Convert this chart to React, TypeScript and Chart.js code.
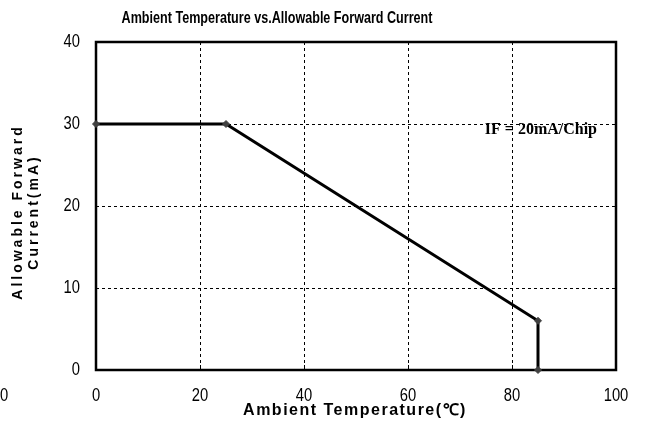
import { useEffect, useRef } from "react";
import { Chart, registerables } from "chart.js";

Chart.register(...registerables);

// Derating curve: ambient temperature (°C) vs allowable forward current (mA)
const temperatures = [0, 25, 85, 85];
const currents = [30, 30, 6, 0];
const xTickValues = [0, 20, 40, 60, 80, 100];
const yTickValues = [0, 10, 20, 30, 40];
const chartTitle = "Ambient Temperature vs.Allowable Forward Current";
const xTitle = "Ambient Temperature(℃)";
const yTitleLines = ["Allowable Forward", "Current(mA)"];
const noteText = "IF = 20mA/Chip";
const strayLabel = "0";

const SANS = "'Liberation Sans', Arial, sans-serif";

// draws text squeezed horizontally to mimic a condensed face
function condensedText(
  ctx: CanvasRenderingContext2D,
  text: string,
  x: number,
  y: number,
  squeeze: number,
  align: CanvasTextAlign
) {
  ctx.save();
  ctx.translate(x, y);
  ctx.scale(squeeze, 1);
  ctx.textAlign = align;
  ctx.fillText(text, 0, 0);
  ctx.restore();
}

const decorPlugin = {
  id: "decor",
  beforeDatasetsDraw(chart: any) {
    const { ctx, chartArea } = chart;
    const { left, right, top, bottom } = chartArea;
    const xs = chart.scales.x;
    ctx.save();

    // inner tick marks along the bottom edge
    ctx.strokeStyle = "#000";
    ctx.lineWidth = 1;
    ctx.setLineDash([]);
    for (const v of xTickValues) {
      const px = Math.round(xs.getPixelForValue(v)) + 0.5;
      ctx.beginPath();
      ctx.moveTo(px, bottom);
      ctx.lineTo(px, bottom - 5);
      ctx.stroke();
    }

    // plot frame (under the curve so markers on the edges stay visible)
    ctx.lineWidth = 2.5;
    ctx.strokeRect(left, top, right - left, bottom - top);
    ctx.restore();
  },
  afterDraw(chart: any) {
    const { ctx } = chart;
    const xs = chart.scales.x;
    const ys = chart.scales.y;
    ctx.save();
    ctx.fillStyle = "#000";
    ctx.textBaseline = "middle";

    // tick labels
    ctx.font = `18px ${SANS}`;
    for (const v of xTickValues) {
      condensedText(ctx, String(v), xs.getPixelForValue(v), 396, 0.82, "center");
    }
    for (const v of yTickValues) {
      condensedText(ctx, String(v), 80, ys.getPixelForValue(v), 0.82, "right");
    }

    // chart title
    ctx.font = `bold 17px ${SANS}`;
    condensedText(ctx, chartTitle, 277, 18, 0.74, "center");

    // x axis title
    ctx.font = `bold 16px ${SANS}`;
    (ctx as any).letterSpacing = "1.5px";
    ctx.textAlign = "center";
    ctx.fillText(xTitle, 355, 411);

    // y axis title, two rotated lines
    ctx.save();
    ctx.translate(18, 212);
    ctx.rotate(-Math.PI / 2);
    ctx.font = `bold 14px ${SANS}`;
    (ctx as any).letterSpacing = "3px";
    ctx.textAlign = "center";
    ctx.fillText(yTitleLines[0], 0, 0);
    ctx.fillText(yTitleLines[1], 0, 16);
    ctx.restore();
    (ctx as any).letterSpacing = "0px";

    // condition note
    ctx.font = `bold 16px 'Liberation Serif', 'Times New Roman', serif`;
    ctx.textAlign = "right";
    ctx.fillText(noteText, 597, 130);

    // clipped label at the far left edge
    ctx.font = `18px ${SANS}`;
    condensedText(ctx, strayLabel, 0, 396, 0.82, "left");

    ctx.restore();
  },
};

export default function App() {
  const canvasRef = useRef<HTMLCanvasElement | null>(null);

  useEffect(() => {
    document.body.style.margin = "0";
    const canvas = canvasRef.current;
    if (!canvas) return;
    const chart = new Chart(canvas, {
      type: "line",
      data: {
        datasets: [
          {
            data: temperatures.map((t, i) => ({ x: t, y: currents[i] })),
            borderColor: "#000",
            borderWidth: 3,
            backgroundColor: "#404040",
            pointBorderColor: "#404040",
            pointStyle: "rectRot",
            pointRadius: 3.5,
            pointBorderWidth: 1,
            tension: 0,
            fill: false,
            clip: 6,
          },
        ],
      },
      options: {
        animation: false,
        responsive: false,
        maintainAspectRatio: false,
        layout: { padding: { top: 42, right: 29, left: 0, bottom: 0 } },
        plugins: {
          legend: { display: false },
          title: { display: false },
          tooltip: { enabled: false },
        },
        scales: {
          x: {
            type: "linear",
            min: 0,
            max: 100,
            afterBuildTicks: (s: any) => {
              s.ticks = xTickValues.map((v) => ({ value: v }));
            },
            afterFit: (s: any) => {
              s.height = 56;
            },
            ticks: { display: false },
            grid: {
              color: (c: any) =>
                c.tick && (c.tick.value === 0 || c.tick.value === 100) ? "rgba(0,0,0,0)" : "#000",
              lineWidth: 1,
              drawTicks: false,
            },
            border: { display: false, dash: [3, 3] },
          },
          y: {
            type: "linear",
            min: 0,
            max: 40,
            afterBuildTicks: (s: any) => {
              s.ticks = yTickValues.map((v) => ({ value: v }));
            },
            afterFit: (s: any) => {
              s.width = 96;
            },
            ticks: { display: false },
            grid: {
              color: (c: any) =>
                c.tick && (c.tick.value === 0 || c.tick.value === 40) ? "rgba(0,0,0,0)" : "#000",
              lineWidth: 1,
              drawTicks: false,
            },
            border: { display: false, dash: [3, 3] },
          },
        },
      },
      plugins: [decorPlugin],
    });
    return () => chart.destroy();
  }, []);

  return (
    <div style={{ width: 645, height: 426, background: "#fff" }}>
      <canvas ref={canvasRef} width={645} height={426} />
    </div>
  );
}
